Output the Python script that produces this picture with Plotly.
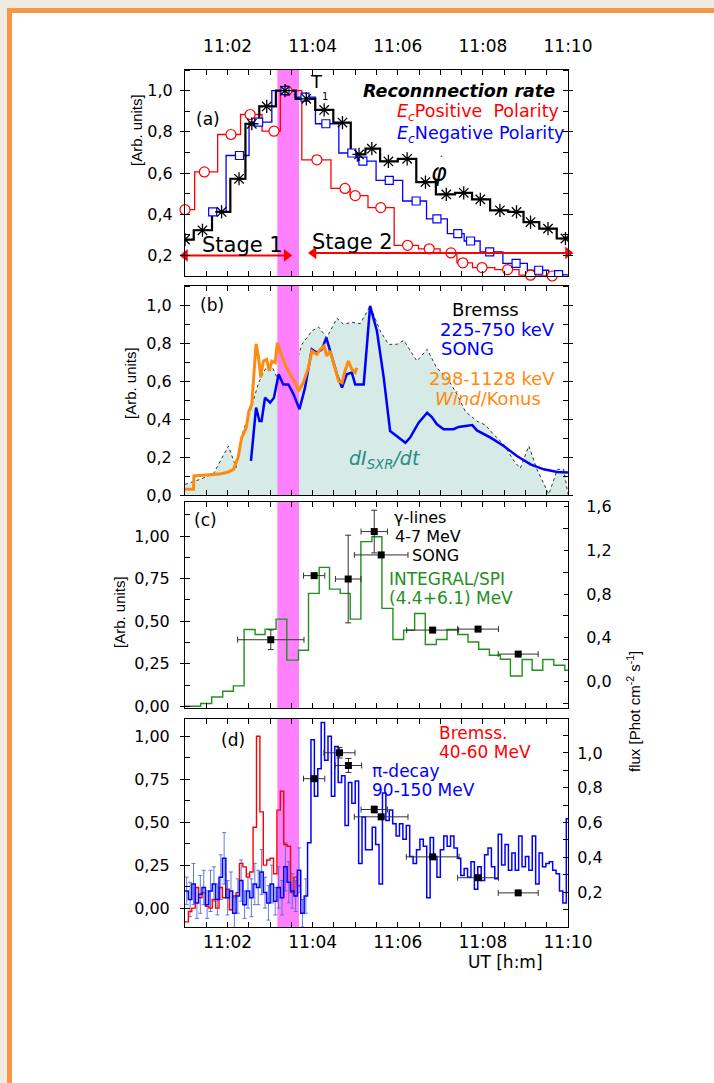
import plotly.graph_objects as go

W, H = 714, 1083

# ---------------- data (time in minutes after 11:00 UT) ----------------
TICK_T = [2, 4, 6, 8, 10]
TICK_TXT = ["11:02", "11:04", "11:06", "11:08", "11:10"]
BAND_T = [3.17, 3.68]

# (a) reconnection rate
A_PHI_T = [1.0, 1.41, 1.86, 2.27, 2.57, 2.92, 3.35, 3.85, 4.27, 4.70, 5.09, 5.39, 5.78, 6.22, 6.65,
           7.14, 7.55, 7.94, 8.40, 8.79, 9.12, 9.53, 9.94, 10.0]
A_PHI_V = [0.277, 0.322, 0.411, 0.572, 0.839, 0.923, 1.0, 0.960, 0.906, 0.845, 0.690, 0.718, 0.656,
           0.669, 0.556, 0.496, 0.504, 0.472, 0.419, 0.411, 0.362, 0.330, 0.282, 0.282]
A_RED_T = [1.0, 1.455, 2.08, 2.53, 3.09, 3.39, 4.10, 4.76, 5.0, 5.60, 6.23, 6.74, 7.25, 7.53, 7.98,
           8.58, 9.12, 9.63, 10.0]
A_RED_V = [0.422, 0.605, 0.787, 0.884, 0.803, 1.0, 0.664, 0.525, 0.49, 0.432, 0.249, 0.232, 0.212,
           0.164, 0.141, 0.131, 0.104, 0.10, 0.097]
A_BLUE_T = [1.65, 2.28, 2.73, 3.35, 3.82, 4.31, 4.92, 5.18, 5.80, 6.43, 6.92, 7.41, 7.71, 8.16, 8.78,
            9.31, 9.78, 10.0]
A_BLUE_V = [0.411, 0.685, 0.847, 1.0, 0.968, 0.839, 0.697, 0.658, 0.564, 0.464, 0.377, 0.306, 0.27,
            0.217, 0.161, 0.128, 0.107, 0.105]
STAGE1 = [1.0, 3.39, 0.2]
STAGE2 = [4.02, 10.0, 0.212]

# (b)
B_SXR_T = [1.00, 1.35, 1.67, 2.02, 2.20, 2.33, 2.51, 2.73, 2.88, 3.04, 3.20, 3.35, 3.59, 3.75, 3.98,
           4.14, 4.33, 4.57, 4.73, 4.92, 5.12, 5.35, 5.59, 5.78, 5.98, 6.14, 6.45, 6.69, 6.92, 7.16,
           7.39, 7.59, 7.86, 8.06, 8.25, 8.49, 8.73, 8.88, 9.08, 9.27, 9.55, 9.75, 9.90, 10.0]
B_SXR_V = [0.056, 0.082, 0.112, 0.258, 0.144, 0.311, 0.425, 0.591, 0.661, 0.679, 0.60, 0.661, 0.679,
           0.793, 0.863, 0.884, 0.828, 0.93, 0.898, 0.909, 0.902, 0.995, 0.863, 0.793, 0.793, 0.814,
           0.705, 0.767, 0.667, 0.618, 0.53, 0.439, 0.389, 0.368, 0.319, 0.267, 0.179, 0.14, 0.258,
           0.135, 0.004, 0.135, 0.135, 0.004]
B_SONG_T = [2.55, 2.67, 2.75, 2.80, 2.88, 3.00, 3.09, 3.20, 3.31, 3.43, 3.55, 3.69, 3.82, 3.98, 4.10,
            4.22, 4.32, 4.41, 4.57, 4.69, 4.80, 4.92, 5.00, 5.20, 5.35, 5.51, 5.67, 5.82, 5.98, 6.18,
            6.29, 6.49, 6.69, 6.80, 6.92, 7.08, 7.31, 7.43, 7.59, 7.75, 7.86, 8.18, 8.49, 8.80, 9.12,
            9.43, 9.75, 10.0]
B_SONG_V = [0.179, 0.46, 0.39, 0.39, 0.512, 0.486, 0.512, 0.635, 0.582, 0.582, 0.53, 0.451, 0.565,
            0.767, 0.749, 0.767, 0.828, 0.758, 0.635, 0.565, 0.635, 0.644, 0.582, 0.582, 0.995, 0.863,
            0.618, 0.337, 0.311, 0.275, 0.302, 0.381, 0.433, 0.41, 0.372, 0.346, 0.346, 0.358, 0.363,
            0.368, 0.34, 0.302, 0.258, 0.205, 0.161, 0.135, 0.121, 0.118]
B_KONUS_T = [1.0, 1.2, 1.21, 1.5, 1.8, 2.0, 2.14, 2.25, 2.33, 2.44, 2.50, 2.57, 2.62, 2.67, 2.73, 2.78,
             2.84, 2.92, 2.98, 3.04, 3.12, 3.17, 3.25, 3.35, 3.47, 3.59, 3.67, 3.78, 3.90, 3.98, 4.10,
             4.18, 4.27, 4.33, 4.41, 4.53, 4.61, 4.69, 4.76, 4.84, 4.92, 5.0, 5.04]
B_KONUS_V = [0.03, 0.03, 0.10, 0.105, 0.11, 0.12, 0.135, 0.20, 0.30, 0.354, 0.44, 0.477, 0.653, 0.796,
             0.723, 0.618, 0.705, 0.714, 0.653, 0.705, 0.696, 0.802, 0.749, 0.688, 0.635, 0.591,
             0.547, 0.591, 0.67, 0.758, 0.74, 0.767, 0.784, 0.732, 0.758, 0.67, 0.60, 0.591, 0.653,
             0.705, 0.661, 0.644, 0.67]

# (c)
C_SPI_EDGES = [1.0, 1.369, 1.627, 1.886, 2.137, 2.388, 2.647, 2.882, 3.141, 3.392, 3.667, 3.902, 4.153,
               4.396, 4.647, 4.882, 5.133, 5.392, 5.627, 5.886, 6.137, 6.396, 6.647, 6.906, 7.157,
               7.408, 7.651, 7.902, 8.153, 8.412, 8.647, 8.922, 9.157, 9.408, 9.667, 9.925, 10.0]
C_SPI_V = [0.0, 0.016, 0.055, 0.088, 0.12, 0.451, 0.422, 0.453, 0.512, 0.271, 0.329, 0.663, 0.816,
           0.688, 0.663, 0.512, 0.967, 0.996, 0.575, 0.392, 0.447, 0.545, 0.363, 0.392, 0.451, 0.422,
           0.378, 0.335, 0.30, 0.276, 0.178, 0.275, 0.212, 0.275, 0.241, 0.212]
C_SONG_T = [3.016, 4.035, 4.835, 5.447, 5.61, 6.82, 7.886, 8.83]
C_SONG_V = [0.383, 0.968, 0.937, 1.370, 1.157, 0.471, 0.48, 0.252]
C_SONG_XERR = [0.78, 0.25, 0.30, 0.31, 0.63, 0.61, 0.48, 0.47]
C_SONG_YERR = [0.09, 0.0, 0.40, 0.195, 0.0, 0.0, 0.0, 0.0]

# (d)
D_BIN0 = 1.0
D_BINW = 0.08
D_BLUE_V = [0.10, 0.05, 0.14, 0.03, 0.08, 0.12, 0.02, 0.10, 0.14, 0.05,
            0.18, 0.29, 0.06, 0.10, -0.03, 0.07, 0.16, 0.02, 0.10, 0.06,
            0.14, 0.12, 0.21, 0.09, 0.03, 0.14, 0.04, 0.12, 0.06, 0.24,
            0.15, 0.10, 0.07, 0.22, -0.03, 0.07, 0.38, 0.98, 0.65, 0.81,
            1.08, 0.86, 1.0, 0.65, 0.94, 0.73, 0.77, 0.48, 0.73, 0.61,
            0.74, 0.26, 0.53, 0.34, 0.34, 0.47, 0.37, 0.14, 0.67, 0.51,
            0.57, 0.49, 0.42, 0.49, 0.40, 0.48, 0.30, 0.26, 0.34, 0.40,
            0.36, 0.06, 0.41, 0.30, 0.18, 0.34, 0.42, 0.36, 0.42, 0.35,
            0.29, 0.19, 0.23, 0.18, 0.27, 0.11, 0.24, 0.16, 0.31, 0.35,
            0.24, 0.17, 0.43, 0.25, 0.37, 0.22, 0.32, 0.22, 0.42, 0.24,
            0.30, 0.22, 0.42, 0.14, 0.32, 0.24, 0.26, 0.27, 0.22, 0.20,
            0.10, 0.03, 0.52, 0.28]
D_BLUE_ERR = [0.08, 0.10, 0.12, 0.09, 0.11, 0.10, 0.08, 0.12, 0.10, 0.09, 0.13, 0.15, 0.10, 0.11,
              0.09, 0.10, 0.12, 0.08, 0.10, 0.11, 0.12, 0.10, 0.13, 0.09, 0.10, 0.11, 0.08, 0.12,
              0.10, 0.14, 0.12, 0.10, 0.09, 0.13, 0.08, 0.10]
D_RED_V = [-0.08, -0.02, 0.0, 0.12, 0.06, 0.09, 0.01, 0.0, 0.05, 0.0,
           0.12, 0.06, 0.11, -0.01, 0.07, 0.09, 0.26, 0.24, 0.18, 0.21,
           0.47, 1.0, 0.56, 0.25, 0.28, 0.29, 0.20, 0.57, 0.68, 0.37,
           0.36, 0.09, 0.18, 0.13, 0.13]
D_SONG_T = [4.035, 4.63, 4.84, 5.447, 5.61, 6.82, 7.886, 8.83]
D_SONG_V = [0.852, 1.001, 0.928, 0.675, 0.633, 0.403, 0.283, 0.196]
D_SONG_XERR = [0.25, 0.365, 0.31, 0.31, 0.63, 0.62, 0.48, 0.47]
D_SONG_YERR = [0.0, 0.03, 0.04, 0.02, 0.0, 0.0, 0.0, 0.0]
D_RIGHT_TICKS = [0.2, 0.4, 0.6, 0.8, 1.0]

# axis ranges
RANGE_X = [1, 10]
RANGE_A = [0.1, 1.1]
RANGE_B = [0.0, 1.1]
RANGE_C = [-0.01, 1.2]
RANGE_CR = [-0.24, 1.64]
RANGE_D = [-0.11, 1.1]
RANGE_DR = [0.0, 1.195]

# ---------------- styling ----------------
FONT = "DejaVu Sans, Liberation Sans, Arial, sans-serif"
TITLEFONT = "Liberation Sans, Arial, sans-serif"
PINK = "#FF80FF"
RED = "#FF0000"
BLUE = "#0000FF"
GREEN = "#23901E"
ORANGE = "#FF8A10"
TEAL = "#2A8C84"

XDOM = [185 / W, 568 / W]


def ydom(top, bot):
    return [1 - bot / H, 1 - top / H]


fig = go.Figure()

# ---- (a)
fig.add_trace(go.Scatter(x=A_RED_T, y=A_RED_V, mode="lines", line=dict(color=RED, width=1.3, shape="hvh"),
                         xaxis="x", yaxis="y"))
fig.add_trace(go.Scatter(x=A_BLUE_T, y=A_BLUE_V, mode="lines", line=dict(color=BLUE, width=1.3, shape="hvh"),
                         xaxis="x", yaxis="y"))
fig.add_trace(go.Scatter(x=A_PHI_T, y=A_PHI_V, mode="lines", line=dict(color="black", width=2.2, shape="hvh"),
                         xaxis="x", yaxis="y"))
fig.add_trace(go.Scatter(x=A_RED_T[:-1], y=A_RED_V[:-1], mode="markers",
                         marker=dict(symbol="circle", size=10, color="white", line=dict(color=RED, width=1.2)),
                         xaxis="x", yaxis="y", cliponaxis=False))
fig.add_trace(go.Scatter(x=A_BLUE_T[:-1], y=A_BLUE_V[:-1], mode="markers",
                         marker=dict(symbol="square", size=8, color="white", line=dict(color=BLUE, width=1.2)),
                         xaxis="x", yaxis="y"))
fig.add_trace(go.Scatter(x=A_PHI_T[:-1], y=A_PHI_V[:-1], mode="markers",
                         marker=dict(symbol="asterisk-open", size=11, color="black",
                                     line=dict(color="black", width=1.3)),
                         xaxis="x", yaxis="y"))
for lo, hi, yv in [STAGE1, STAGE2]:
    fig.add_trace(go.Scatter(x=[lo, hi], y=[yv, yv], mode="lines", line=dict(color=RED, width=2),
                             xaxis="x", yaxis="y", cliponaxis=False))
    fig.add_trace(go.Scatter(x=[lo, hi], y=[yv, yv], mode="markers",
                             marker=dict(symbol=["triangle-left", "triangle-right"], size=11, color=RED),
                             xaxis="x", yaxis="y", cliponaxis=False))

# ---- (b)
fig.add_trace(go.Scatter(x=B_SXR_T, y=B_SXR_V, mode="lines", fill="tozeroy", fillcolor="#D6EAE6",
                         line=dict(color="#333333", width=1, dash="dot"), xaxis="x2", yaxis="y2"))
fig.add_trace(go.Scatter(x=[BAND_T[0], BAND_T[0], BAND_T[1], BAND_T[1]],
                         y=[RANGE_B[0], RANGE_B[1], RANGE_B[1], RANGE_B[0]],
                         mode="lines", fill="toself", fillcolor=PINK, line=dict(width=0),
                         xaxis="x2", yaxis="y2"))
fig.add_trace(go.Scatter(x=B_SONG_T, y=B_SONG_V, mode="lines", line=dict(color=BLUE, width=2.5),
                         xaxis="x2", yaxis="y2"))
fig.add_trace(go.Scatter(x=B_KONUS_T, y=B_KONUS_V, mode="lines", line=dict(color=ORANGE, width=3),
                         xaxis="x2", yaxis="y2"))

# ---- (c)
fig.add_trace(go.Scatter(x=C_SPI_EDGES, y=C_SPI_V + [C_SPI_V[-1]], mode="lines",
                         line=dict(color=GREEN, width=1.4, shape="hv"), xaxis="x3", yaxis="y3"))
fig.add_trace(go.Scatter(x=C_SONG_T, y=C_SONG_V, mode="markers",
                         marker=dict(symbol="square", size=7, color="black"),
                         error_x=dict(type="data", array=C_SONG_XERR, color="#333333", thickness=1, width=3),
                         error_y=dict(type="data", array=C_SONG_YERR, color="#333333", thickness=1, width=3),
                         xaxis="x3", yaxis="y4"))

# ---- (d)
fig.add_trace(go.Scatter(x0=D_BIN0 + D_BINW / 2, dx=D_BINW, y=D_BLUE_V[:len(D_BLUE_ERR)], mode="markers",
                         marker=dict(size=1, color="rgba(0,0,0,0)"),
                         error_y=dict(type="data", array=D_BLUE_ERR, color="rgba(70,100,230,0.85)",
                                      thickness=1, width=2),
                         xaxis="x4", yaxis="y5"))
fig.add_trace(go.Scatter(x0=D_BIN0, dx=D_BINW, y=D_RED_V, mode="lines",
                         line=dict(color=RED, width=1.4, shape="hv"), xaxis="x4", yaxis="y5"))
fig.add_trace(go.Scatter(x0=D_BIN0, dx=D_BINW, y=D_BLUE_V, mode="lines",
                         line=dict(color=BLUE, width=1.5, shape="hv"), xaxis="x4", yaxis="y5"))
fig.add_trace(go.Scatter(x=D_SONG_T, y=D_SONG_V, mode="markers",
                         marker=dict(symbol="square", size=7, color="black"),
                         error_x=dict(type="data", array=D_SONG_XERR, color="#333333", thickness=1, width=3),
                         error_y=dict(type="data", array=D_SONG_YERR, color="#333333", thickness=1, width=3),
                         xaxis="x4", yaxis="y6"))

# ---------------- axes ----------------
xtickfont = dict(family=FONT, size=17, color="black")
ytickfont = dict(family=FONT, size=16, color="black")


def xax(anchor, labels, side="bottom", standoff=0):
    return dict(domain=XDOM, anchor=anchor, range=RANGE_X, side=side, automargin=False,
                tickmode="array", tickvals=TICK_T, ticktext=TICK_TXT, showticklabels=labels,
                ticks="inside", ticklen=5, tickcolor="black", mirror="ticks",
                minor=dict(tickmode="linear", tick0=1, dtick=0.5, ticks="inside", ticklen=5, tickcolor="black"),
                showline=True, linecolor="black", linewidth=1, showgrid=False, zeroline=False,
                tickfont=xtickfont, ticklabelstandoff=standoff)


def yax(domain, rng, dtick, minor, fmt, side="left", mirror="ticks", overlaying=None, anchor=None,
        ticks_major="outside", standoff=2, tick0=0.0):
    d = dict(domain=domain, range=rng, side=side, automargin=False, tickmode="linear", tick0=tick0,
             dtick=dtick, tickformat=fmt, ticks=ticks_major, ticklen=4, tickcolor="black", mirror=mirror,
             minor=dict(dtick=minor, tick0=tick0, ticks="inside", ticklen=5, tickcolor="black"),
             showline=True, linecolor="black", linewidth=1, showgrid=False, zeroline=False,
             tickfont=ytickfont, ticklabelstandoff=standoff)
    if overlaying:
        d["overlaying"] = overlaying
    if anchor:
        d["anchor"] = anchor
    return d


DA = ydom(70, 276)
DB = ydom(286, 495)
DC = ydom(502, 708)
DD = ydom(719, 927)

y6 = yax(DD, RANGE_DR, 0.2, 0.1, ".1f", side="right", anchor="x4", overlaying="y5", mirror=False,
         ticks_major="inside", standoff=5)
y6.update(tickmode="array", tickvals=D_RIGHT_TICKS)

fig.update_layout(
    xaxis=xax("y", True, side="top", standoff=10),
    xaxis2=xax("y2", False),
    xaxis3=xax("y3", False),
    xaxis4=xax("y5", True),
    yaxis=yax(DA, RANGE_A, 0.2, 0.1, ".1f", anchor="x", tick0=0.2, standoff=4),
    yaxis2=yax(DB, RANGE_B, 0.2, 0.1, ".1f", anchor="x2", standoff=5),
    yaxis3=yax(DC, RANGE_C, 0.25, 0.125, ".2f", anchor="x3", mirror=False, standoff=7),
    yaxis4=yax(DC, RANGE_CR, 0.4, 0.2, ".1f", side="right", anchor="x3", overlaying="y3", mirror=False,
               ticks_major="inside", standoff=14),
    yaxis5=yax(DD, RANGE_D, 0.25, 0.125, ".2f", anchor="x4", mirror=False, standoff=7),
    yaxis6=y6,
)

# ---------------- frame & band shapes ----------------
shapes = [
    dict(type="rect", xref="paper", yref="paper", x0=7 / W, x1=1.5, y0=-0.5, y1=1 - 8 / H,
         fillcolor="#F79646", line=dict(width=0), layer="below"),
    dict(type="rect", xref="paper", yref="paper", x0=12 / W, x1=1.5, y0=-0.5, y1=1 - 13 / H,
         fillcolor="white", line=dict(width=0), layer="below"),
]
for xr, yr in [("x", "y"), ("x3", "y3"), ("x4", "y5")]:
    shapes.append(dict(type="rect", xref=xr, yref=yr + " domain", x0=BAND_T[0], x1=BAND_T[1], y0=0, y1=1,
                       fillcolor=PINK, line=dict(width=0), layer="below"))
fig.update_layout(shapes=shapes)


# ---------------- annotations ----------------
def ann(px, py, text, size=17, color="black", xanchor="center", family=FONT, angle=0):
    return dict(x=px / W, y=1 - py / H, xref="paper", yref="paper", text=text, showarrow=False,
                xanchor=xanchor, yanchor="middle", textangle=angle,
                font=dict(family=family, size=size, color=color))


anns = [
    # (a)
    ann(208, 119, "(a)", 17),
    ann(557, 91, "<b><i>Reconnnection rate</i></b>", 17.5, xanchor="right"),
    ann(561, 112, "<i>E<sub>c</sub></i>Positive\u00a0 Polarity", 17.5, RED, xanchor="right"),
    ann(566, 134, "<i>E<sub>c</sub></i>Negative Polarity", 17.5, BLUE, xanchor="right"),
    ann(316, 82, "T", 18),
    ann(325, 96, "1", 10),
    ann(439, 173, "<i>φ</i>", 24),
    ann(441, 156, "•", 5),
    ann(242, 245, "Stage 1", 21),
    ann(352, 242, "Stage 2", 21),
    # (b)
    ann(212, 305, "(b)", 17),
    ann(485, 310, "Bremss", 18),
    ann(497, 329, "225-750 keV", 18, BLUE),
    ann(467, 348, "SONG", 18, BLUE),
    ann(492, 378, "298-1128 keV", 18, ORANGE),
    ann(488, 398, "<i>Wind</i>/Konus", 18, ORANGE),
    ann(385, 460, "<i>dI<sub>SXR</sub>/dt</i>", 19, TEAL),
    # (c)
    ann(206, 520, "(c)", 17),
    ann(392, 517, "γ-lines", 16, xanchor="left"),
    ann(393, 537, "4-7 MeV", 16, xanchor="left"),
    ann(410, 555, "SONG", 16, xanchor="left"),
    ann(387, 579, "INTEGRAL/SPI", 17, GREEN, xanchor="left"),
    ann(387, 598, "(4.4+6.1) MeV", 17, GREEN, xanchor="left"),
    # (d)
    ann(233, 740, "(d)", 17),
    ann(437, 733, "Bremss.", 17, RED, xanchor="left"),
    ann(437, 752, "40-60 MeV", 17, RED, xanchor="left"),
    ann(370, 771, "π-decay", 17, BLUE, xanchor="left"),
    ann(370, 790, "90-150 MeV", 17, BLUE, xanchor="left"),
    # axis titles
    ann(137, 130, "[Arb. units]", 15, family=TITLEFONT, angle=-90),
    ann(131, 383, "[Arb. units]", 15, family=TITLEFONT, angle=-90),
    ann(119, 612, "[Arb. units]", 15, family=TITLEFONT, angle=-90),
    ann(633, 712, "flux [Phot cm<sup>-2</sup> s<sup>-1</sup>]", 15, family=TITLEFONT, angle=-90),
    ann(505, 962, "UT [h:m]", 17),
]
fig.update_layout(annotations=anns)

fig.update_layout(width=W, height=H, margin=dict(l=0, r=0, t=0, b=0, autoexpand=False),
                  paper_bgcolor="#EEEBE0", plot_bgcolor="rgba(0,0,0,0)", showlegend=False,
                  separators=",.", font=dict(family=FONT, size=15, color="black"))

fig.write_html("out.html")
